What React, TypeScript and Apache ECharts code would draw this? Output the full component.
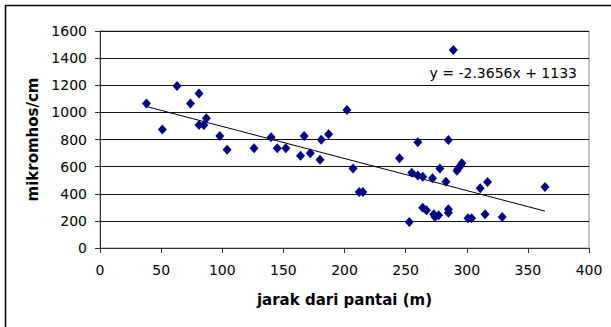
import React, { useEffect, useRef } from "react";
import * as echarts from "echarts";

const distance = [38, 51, 63, 74, 81, 81, 85, 87, 98, 104, 126, 140, 145, 152, 164, 167, 172, 180, 181, 187, 202, 207, 212, 215, 245, 253, 255, 260, 260, 264, 264, 267, 272, 273, 274, 277, 278, 283, 285, 285, 285, 289, 292, 293, 295, 296, 301, 304, 311, 315, 317, 329, 364];
const conductivity = [1065, 873, 1195, 1065, 1140, 907, 907, 957, 826, 725, 735, 816, 735, 735, 680, 826, 698, 651, 799, 838, 1018, 587, 412, 412, 661, 192, 555, 779, 535, 525, 296, 279, 515, 249, 229, 242, 587, 488, 796, 286, 259, 1460, 570, 587, 609, 624, 219, 219, 441, 249, 486, 229, 449];
const slope = -2.3656;
const intercept = 1133;
const equationLabel = "y = -2.3656x + 1133";
const xTitle = "jarak dari pantai (m)";
const yTitle = "mikromhos/cm";

export default function App() {
  const ref = useRef<HTMLDivElement>(null);
  useEffect(() => {
    if (!ref.current) return;
    const chart = echarts.init(ref.current, null, { renderer: "svg" });
    const points = distance.map((x, i) => [x, conductivity[i]]);
    const xMin = Math.min(...distance);
    const xMax = Math.max(...distance);
    const trend = [
      [xMin, slope * xMin + intercept],
      [xMax, slope * xMax + intercept],
    ];
    chart.setOption({
      animation: false,
      backgroundColor: "#ffffff",
      grid: { left: 100, right: 22, top: 31, bottom: 79, show: true, borderColor: "#8c8c8c", borderWidth: 1 },
      xAxis: {
        type: "value",
        min: 0,
        max: 400,
        interval: 50,
        name: xTitle,
        nameLocation: "middle",
        nameGap: 44,
        nameTextStyle: { fontFamily: "DejaVu Sans", fontWeight: "bold", fontSize: 15, color: "#000" },
        axisLine: { show: true, onZero: false, lineStyle: { color: "#333", width: 1 } },
        axisTick: { show: true, length: 5, inside: false, lineStyle: { color: "#333" } },
        axisLabel: { margin: 15, fontFamily: "DejaVu Sans", fontSize: 14, color: "#000", formatter: (v: number) => String(v) },
        splitLine: { show: false },
      },
      yAxis: {
        type: "value",
        min: 0,
        max: 1600,
        interval: 200,
        name: yTitle,
        nameLocation: "middle",
        nameGap: 55,
        nameTextStyle: { fontFamily: "DejaVu Sans", fontWeight: "bold", fontSize: 15, color: "#000" },
        axisLine: { show: true, onZero: false, lineStyle: { color: "#333", width: 1 } },
        axisTick: { show: true, length: 5, inside: false, lineStyle: { color: "#333" } },
        axisLabel: { margin: 13, fontFamily: "DejaVu Sans", fontSize: 14, color: "#000", formatter: (v: number) => String(v) },
        splitLine: { show: true, lineStyle: { color: "#111", width: 1 } },
      },
      series: [
        {
          type: "scatter",
          data: points,
          symbol: "diamond",
          symbolSize: [9, 10],
          itemStyle: { color: "#000080", opacity: 1 },
          z: 3,
        },
        {
          type: "line",
          data: trend,
          symbol: "none",
          lineStyle: { color: "#000", width: 1 },
          z: 2,
        },
      ],
      graphic: [
        {
          type: "rect",
          shape: { x: 5.5, y: 5.5, width: 610, height: 340 },
          style: { fill: "none", stroke: "#000", lineWidth: 1.5 },
          silent: true,
        },
        {
          type: "text",
          right: 34,
          top: 66,
          style: { text: equationLabel, fontFamily: "DejaVu Sans", fontSize: 14, fill: "#000" },
        },
      ],
    });
    return () => chart.dispose();
  }, []);
  return <div ref={ref} style={{ position: "fixed", left: 0, top: 0, width: 611, height: 327 }} />;
}
